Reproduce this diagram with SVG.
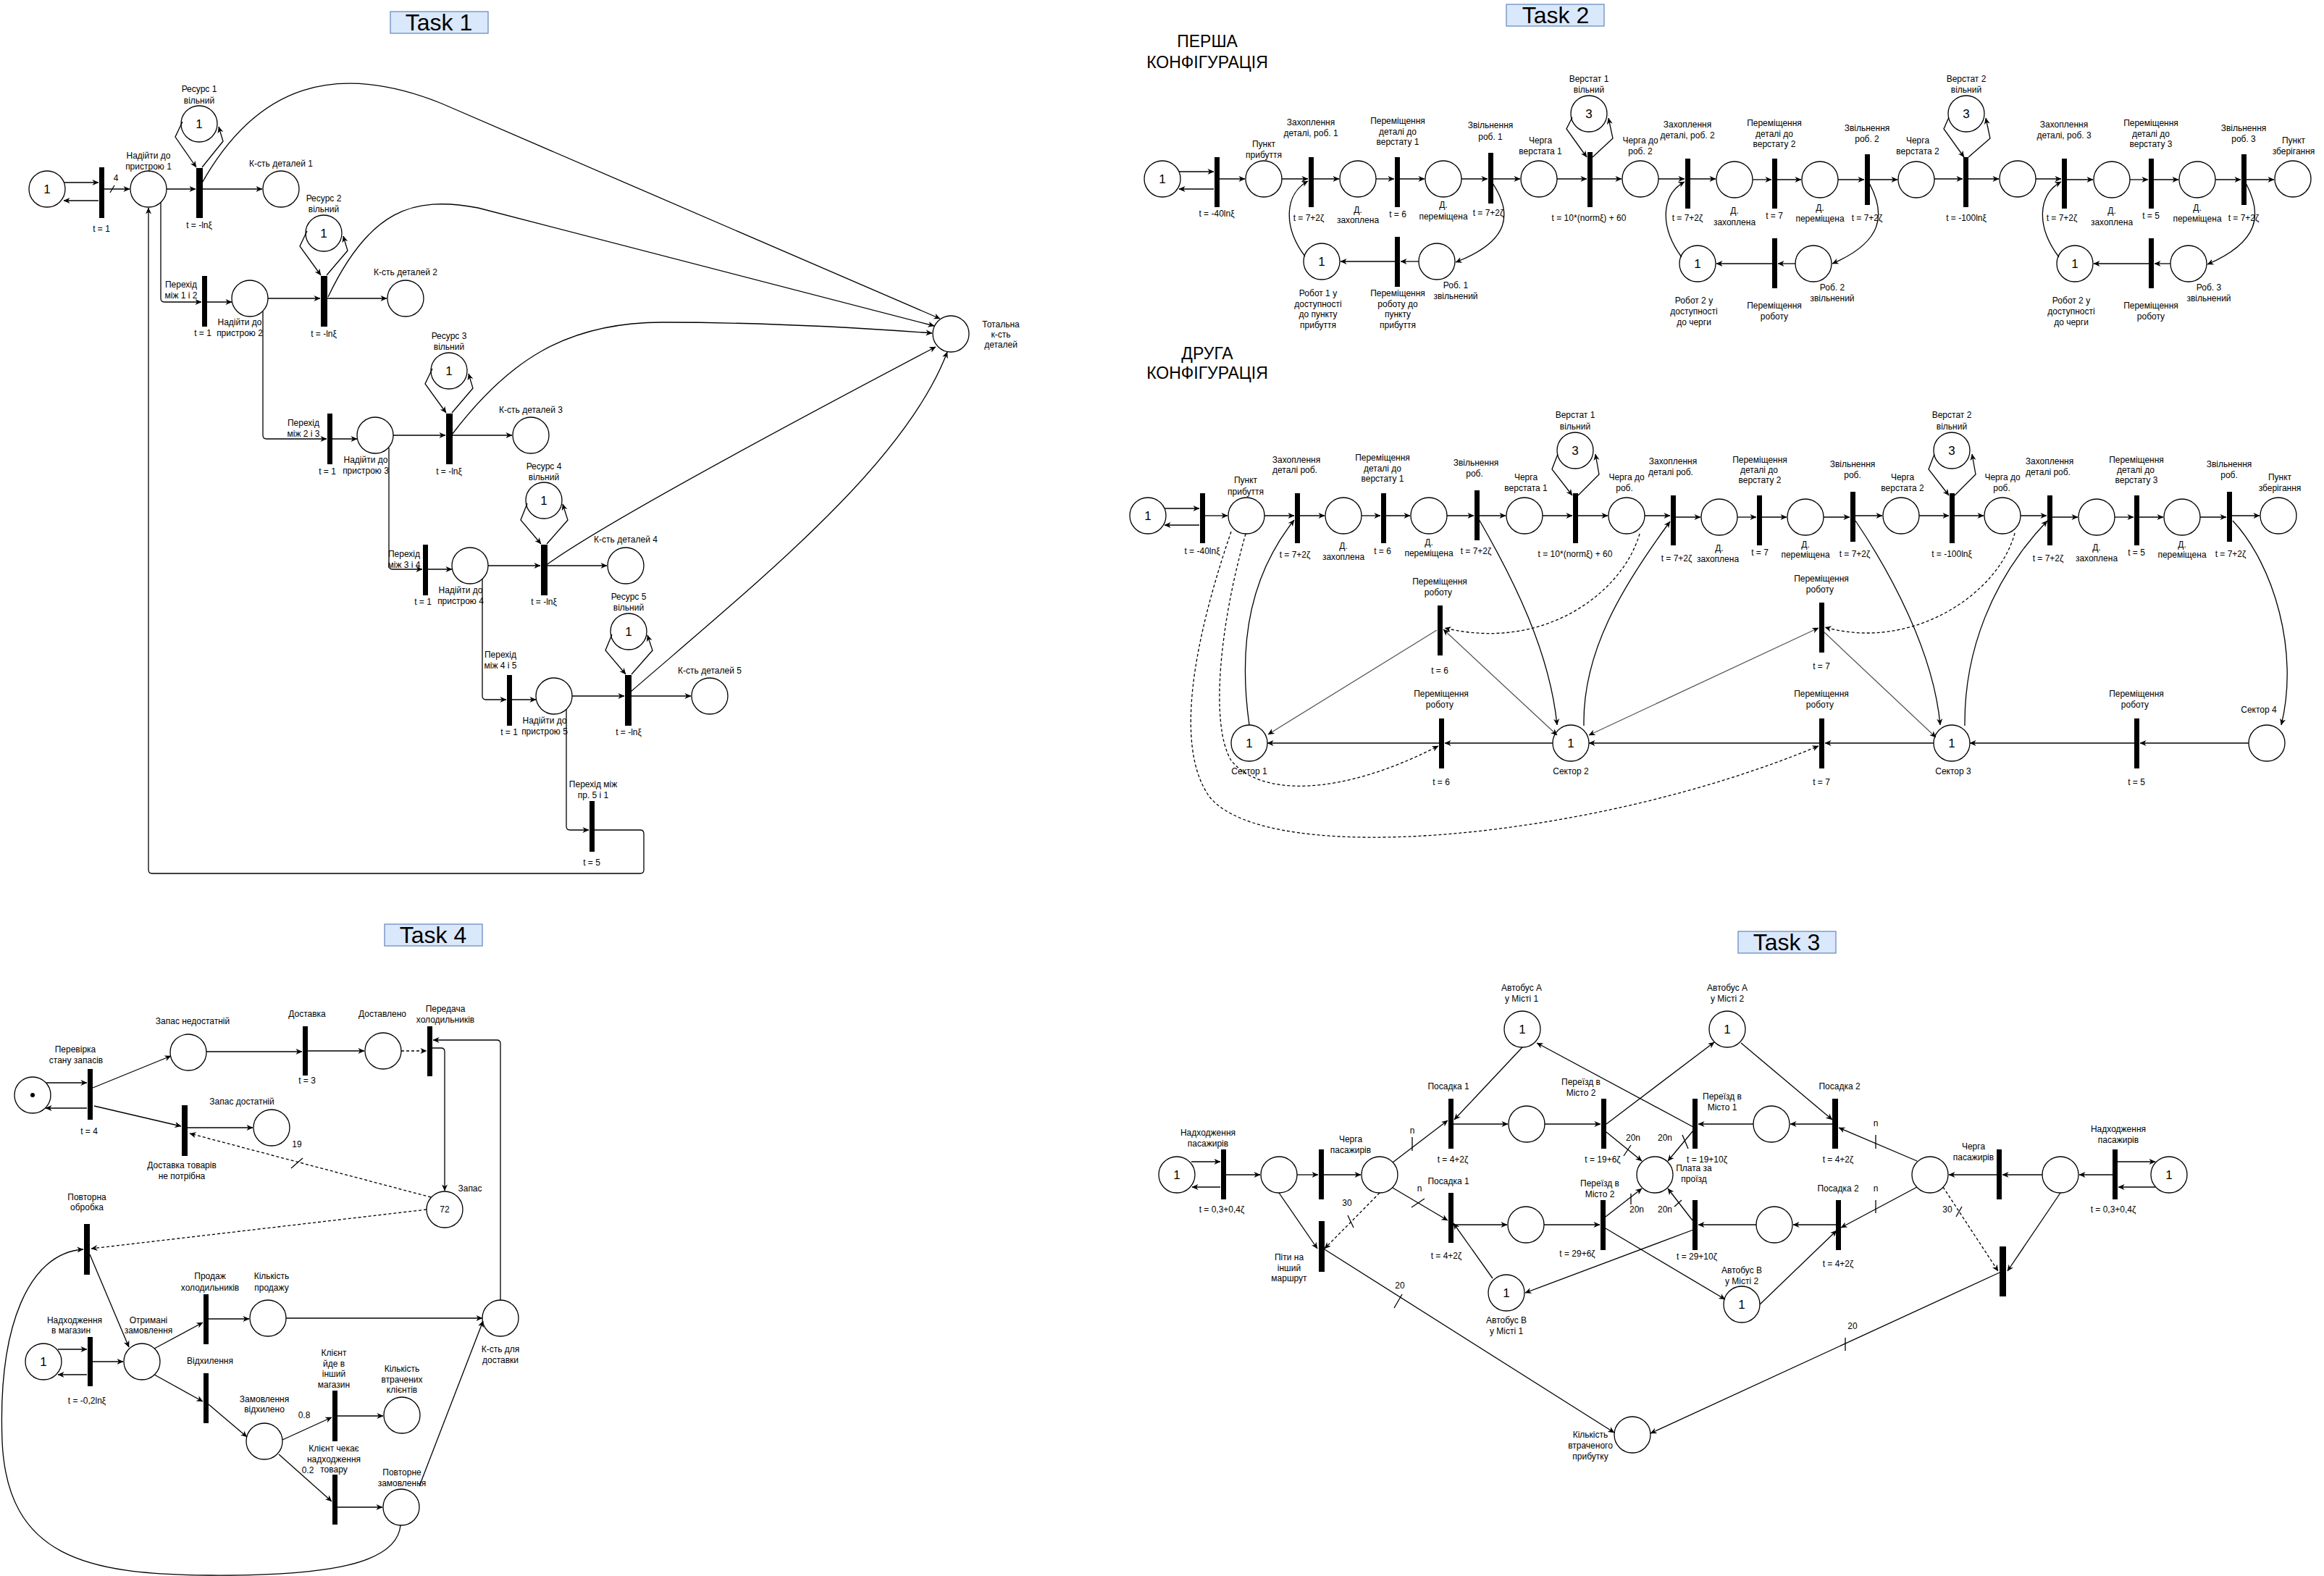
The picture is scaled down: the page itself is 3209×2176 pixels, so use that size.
<svg xmlns="http://www.w3.org/2000/svg" width="3209" height="2176" viewBox="0 0 3209 2176">
<defs>
<marker id="ar" viewBox="0 0 10 10" refX="9.5" refY="5" markerWidth="9" markerHeight="9" markerUnits="userSpaceOnUse" orient="auto-start-reverse"><path d="M0,0.5 L10,5 L0,9.5 L3,5 z" fill="#000"/></marker>
<style>
.p{fill:#fff;stroke:#000;stroke-width:1.3}
.t{fill:#000}
.a{fill:none;stroke:#000;stroke-width:1.3;marker-end:url(#ar)}
.b{marker-start:url(#ar)}
.g{stroke:#555}
.n{fill:none;stroke:#000;stroke-width:1.3}
.d{stroke-dasharray:4 3}
text{font-family:"Liberation Sans",Arial,sans-serif;fill:#000}
.l{font-size:12px;text-anchor:middle;dominant-baseline:central}
.k{font-size:17px;text-anchor:middle;dominant-baseline:central}
.h{font-size:32px;text-anchor:middle;dominant-baseline:central}
.c{font-size:23px;text-anchor:middle;dominant-baseline:central}
.tb{fill:#dae8fc;stroke:#6c8ebf;stroke-width:1.3}
</style>
</defs>
<rect width="3209" height="2176" fill="#fff"/>

<!-- ================= TITLES ================= -->
<g id="title-task1"><rect class="tb" x="539" y="16" width="135" height="30"/><text class="h" x="606" y="31">Task 1</text></g>
<g id="title-task2"><rect class="tb" x="2080" y="6" width="135" height="30"/><text class="h" x="2148" y="21">Task 2</text></g>
<g id="title-task4"><rect class="tb" x="531" y="1276" width="135" height="30"/><text class="h" x="598" y="1291">Task 4</text></g>
<g id="title-task3"><rect class="tb" x="2400" y="1286" width="135" height="30"/><text class="h" x="2467" y="1301">Task 3</text></g>
<g id="title-conf1"><text class="c" x="1667" y="57">ПЕРША</text><text class="c" x="1667" y="86">КОНФІГУРАЦІЯ</text></g>
<g id="title-conf2"><text class="c" x="1667" y="488">ДРУГА</text><text class="c" x="1667" y="515">КОНФІГУРАЦІЯ</text></g>

<!-- ================= TASK 1 NODES ================= -->
<g id="t1-p0"><circle class="p" cx="65" cy="261" r="25"/><text class="k" x="65" y="261">1</text></g>
<g id="t1-t0"><rect class="t" x="137" y="231" width="7" height="70"/><text class="l" x="140" y="316">t = 1</text></g>
<g id="t1-p1"><circle class="p" cx="205" cy="261" r="25"/><text class="l" x="205" y="215">Надійти до<tspan x="205" dy="15">пристрою 1</tspan></text></g>
<g id="t1-t1"><rect class="t" x="271" y="232" width="9" height="69"/><text class="l" x="275" y="311">t = -lnξ</text></g>
<g id="t1-r1"><circle class="p" cx="275" cy="171" r="25"/><text class="k" x="275" y="171">1</text><text class="l" x="275" y="123">Ресурс 1<tspan x="275" dy="16">вільний</tspan></text></g>
<g id="t1-k1"><circle class="p" cx="388" cy="261" r="25"/><text class="l" x="388" y="226">К-сть деталей 1</text></g>
<g id="t1-tot"><circle class="p" cx="1313" cy="461" r="25"/><text class="l" x="1382" y="448">Тотальна<tspan x="1382" dy="14">к-сть</tspan><tspan x="1382" dy="14">деталей</tspan></text></g>
<g id="t1-t2"><rect class="t" x="279" y="381" width="7" height="70"/><text class="l" x="250" y="393">Перехід<tspan x="250" dy="15">між 1 і 2</tspan></text><text class="l" x="280" y="460">t = 1</text></g>
<g id="t1-p2"><circle class="p" cx="345" cy="412" r="25"/><text class="l" x="331" y="445">Надійти до<tspan x="331" dy="15">пристрою 2</tspan></text></g>
<g id="t1-t3"><rect class="t" x="443" y="381" width="9" height="70"/><text class="l" x="447" y="461">t = -lnξ</text></g>
<g id="t1-r2"><circle class="p" cx="447" cy="322" r="25"/><text class="k" x="447" y="322">1</text><text class="l" x="447" y="274">Ресурс 2<tspan x="447" dy="15">вільний</tspan></text></g>
<g id="t1-k2"><circle class="p" cx="560" cy="412" r="25"/><text class="l" x="560" y="376">К-сть деталей 2</text></g>
<g id="t1-t4"><rect class="t" x="452" y="571" width="7" height="70"/><text class="l" x="419" y="584">Перехід<tspan x="419" dy="15">між 2 і 3</tspan></text><text class="l" x="452" y="651">t = 1</text></g>
<g id="t1-p3"><circle class="p" cx="518" cy="601" r="25"/><text class="l" x="505" y="635">Надійти до<tspan x="505" dy="15">пристрою 3</tspan></text></g>
<g id="t1-t5"><rect class="t" x="616" y="571" width="9" height="70"/><text class="l" x="620" y="651">t = -lnξ</text></g>
<g id="t1-r3"><circle class="p" cx="620" cy="512" r="25"/><text class="k" x="620" y="512">1</text><text class="l" x="620" y="464">Ресурс 3<tspan x="620" dy="15">вільний</tspan></text></g>
<g id="t1-k3"><circle class="p" cx="733" cy="601" r="25"/><text class="l" x="733" y="566">К-сть деталей 3</text></g>
<g id="t1-t6"><rect class="t" x="584" y="752" width="7" height="70"/><text class="l" x="558" y="765">Перехід<tspan x="558" dy="15">між 3 і 4</tspan></text><text class="l" x="584" y="831">t = 1</text></g>
<g id="t1-p4"><circle class="p" cx="649" cy="781" r="25"/><text class="l" x="636" y="815">Надійти до<tspan x="636" dy="15">пристрою 4</tspan></text></g>
<g id="t1-t7"><rect class="t" x="747" y="752" width="9" height="70"/><text class="l" x="751" y="831">t = -lnξ</text></g>
<g id="t1-r4"><circle class="p" cx="751" cy="691" r="25"/><text class="k" x="751" y="691">1</text><text class="l" x="751" y="644">Ресурс 4<tspan x="751" dy="15">вільний</tspan></text></g>
<g id="t1-k4"><circle class="p" cx="864" cy="781" r="25"/><text class="l" x="864" y="745">К-сть деталей 4</text></g>
<g id="t1-t8"><rect class="t" x="700" y="932" width="7" height="70"/><text class="l" x="691" y="904">Перехід<tspan x="691" dy="15">між 4 і 5</tspan></text><text class="l" x="703" y="1011">t = 1</text></g>
<g id="t1-p5"><circle class="p" cx="765" cy="961" r="25"/><text class="l" x="752" y="995">Надійти до<tspan x="752" dy="15">пристрою 5</tspan></text></g>
<g id="t1-t9"><rect class="t" x="863" y="932" width="9" height="70"/><text class="l" x="868" y="1011">t = -lnξ</text></g>
<g id="t1-r5"><circle class="p" cx="868" cy="872" r="25"/><text class="k" x="868" y="872">1</text><text class="l" x="868" y="824">Ресурс 5<tspan x="868" dy="15">вільний</tspan></text></g>
<g id="t1-k5"><circle class="p" cx="980" cy="961" r="25"/><text class="l" x="980" y="926">К-сть деталей 5</text></g>
<g id="t1-t10"><rect class="t" x="814" y="1106" width="7" height="70"/><text class="l" x="819" y="1083">Перехід між<tspan x="819" dy="15">пр. 5 і 1</tspan></text><text class="l" x="817" y="1191">t = 5</text></g>

<!-- ================= TASK 2 CONFIG 1 NODES ================= -->
<g id="t2a-src"><circle class="p" cx="1605" cy="247" r="25"/><text class="k" x="1605" y="247">1</text></g>
<g id="t2a-ta"><rect class="t" x="1677" y="217" width="7" height="69"/><text class="l" x="1680" y="295">t = -40lnξ</text></g>
<g id="t2a-pp"><circle class="p" cx="1745" cy="247" r="25"/><text class="l" x="1745" y="199">Пункт<tspan x="1745" dy="14.5">прибуття</tspan></text></g>
<g id="t2a-tb"><rect class="t" x="1807" y="217" width="7" height="69"/><text class="l" x="1810" y="169">Захоплення<tspan x="1810" dy="14.5">деталі, роб. 1</tspan></text><text class="l" x="1807" y="301">t = 7+2ζ</text></g>
<g id="t2a-dz1"><circle class="p" cx="1875" cy="247" r="25"/><text class="l" x="1875" y="290">Д.<tspan x="1875" dy="14">захоплена</tspan></text></g>
<g id="t2a-tc"><rect class="t" x="1926" y="217" width="7" height="69"/><text class="l" x="1930" y="167">Переміщення<tspan x="1930" dy="14.5">деталі до</tspan><tspan x="1930" dy="14.5">верстату 1</tspan></text><text class="l" x="1930" y="296">t = 6</text></g>
<g id="t2a-dp1"><circle class="p" cx="1993" cy="247" r="25"/><text class="l" x="1993" y="283">Д.<tspan x="1993" dy="16">переміщена</tspan></text></g>
<g id="t2a-td"><rect class="t" x="2055" y="211" width="7" height="70"/><text class="l" x="2058" y="173">Звільнення<tspan x="2058" dy="15.5">роб. 1</tspan></text><text class="l" x="2055" y="294">t = 7+2ζ</text></g>
<g id="t2a-q1"><circle class="p" cx="2125" cy="247" r="25"/><text class="l" x="2127" y="194">Черга<tspan x="2127" dy="15">верстата 1</tspan></text></g>
<g id="t2a-te"><rect class="t" x="2192" y="210" width="7" height="76"/><text class="l" x="2194" y="301">t = 10*(normξ) + 60</text></g>
<g id="t2a-v1"><circle class="p" cx="2194" cy="157" r="25"/><text class="k" x="2194" y="157">3</text><text class="l" x="2194" y="109">Верстат 1<tspan x="2194" dy="14.5">вільний</tspan></text></g>
<g id="t2a-qr2"><circle class="p" cx="2265" cy="247" r="25"/><text class="l" x="2265" y="194">Черга до<tspan x="2265" dy="15">роб. 2</tspan></text></g>
<g id="t2a-tf"><rect class="t" x="2327" y="219" width="7" height="69"/><text class="l" x="2330" y="172">Захоплення<tspan x="2330" dy="14.5">деталі, роб. 2</tspan></text><text class="l" x="2330" y="301">t = 7+2ζ</text></g>
<g id="t2a-dz2"><circle class="p" cx="2395" cy="248" r="25"/><text class="l" x="2395" y="291">Д.<tspan x="2395" dy="15.5">захоплена</tspan></text></g>
<g id="t2a-tg"><rect class="t" x="2447" y="219" width="7" height="69"/><text class="l" x="2450" y="170">Переміщення<tspan x="2450" dy="14.5">деталі до</tspan><tspan x="2450" dy="14.5">верстату 2</tspan></text><text class="l" x="2450" y="298">t = 7</text></g>
<g id="t2a-dp2"><circle class="p" cx="2513" cy="248" r="25"/><text class="l" x="2513" y="287">Д.<tspan x="2513" dy="14.5">переміщена</tspan></text></g>
<g id="t2a-th"><rect class="t" x="2575" y="213" width="7" height="70"/><text class="l" x="2578" y="177">Звільнення<tspan x="2578" dy="14.5">роб. 2</tspan></text><text class="l" x="2578" y="301">t = 7+2ζ</text></g>
<g id="t2a-q2"><circle class="p" cx="2646" cy="248" r="25"/><text class="l" x="2648" y="194">Черга<tspan x="2648" dy="15">верстата 2</tspan></text></g>
<g id="t2a-ti"><rect class="t" x="2711" y="217" width="7" height="69"/><text class="l" x="2715" y="301">t = -100lnξ</text></g>
<g id="t2a-v2"><circle class="p" cx="2715" cy="157" r="25"/><text class="k" x="2715" y="157">3</text><text class="l" x="2715" y="109">Верстат 2<tspan x="2715" dy="14.5">вільний</tspan></text></g>
<g id="t2a-qr3"><circle class="p" cx="2786" cy="247" r="25"/></g>
<g id="t2a-tj"><rect class="t" x="2847" y="219" width="7" height="69"/><text class="l" x="2850" y="172">Захоплення<tspan x="2850" dy="14.5">деталі, роб. 3</tspan></text><text class="l" x="2847" y="301">t = 7+2ζ</text></g>
<g id="t2a-dz3"><circle class="p" cx="2916" cy="248" r="25"/><text class="l" x="2916" y="291">Д.<tspan x="2916" dy="15.5">захоплена</tspan></text></g>
<g id="t2a-tk"><rect class="t" x="2967" y="219" width="7" height="69"/><text class="l" x="2970" y="170">Переміщення<tspan x="2970" dy="14.5">деталі до</tspan><tspan x="2970" dy="14.5">верстату 3</tspan></text><text class="l" x="2970" y="298">t = 5</text></g>
<g id="t2a-dp3"><circle class="p" cx="3034" cy="248" r="25"/><text class="l" x="3034" y="287">Д.<tspan x="3034" dy="14.5">переміщена</tspan></text></g>
<g id="t2a-tl"><rect class="t" x="3095" y="213" width="7" height="70"/><text class="l" x="3098" y="177">Звільнення<tspan x="3098" dy="14.5">роб. 3</tspan></text><text class="l" x="3098" y="301">t = 7+2ζ</text></g>
<g id="t2a-store"><circle class="p" cx="3166" cy="247" r="25"/><text class="l" x="3167" y="194">Пункт<tspan x="3167" dy="15">зберігання</tspan></text></g>
<g id="t2a-rob1"><circle class="p" cx="1825" cy="361" r="25"/><text class="k" x="1825" y="361">1</text><text class="l" x="1820" y="405">Робот 1 у<tspan x="1820" dy="14.5">доступності</tspan><tspan x="1820" dy="14.5">до пункту</tspan><tspan x="1820" dy="14.5">прибуття</tspan></text></g>
<g id="t2a-tr1"><rect class="t" x="1926" y="327" width="7" height="69"/><text class="l" x="1930" y="405">Переміщення<tspan x="1930" dy="14.5">роботу до</tspan><tspan x="1930" dy="14.5">пункту</tspan><tspan x="1930" dy="14.5">прибуття</tspan></text></g>
<g id="t2a-rf1"><circle class="p" cx="1984" cy="361" r="25"/><text class="l" x="2010" y="394">Роб. 1<tspan x="2010" dy="14.5">звільнений</tspan></text></g>
<g id="t2a-rob2"><circle class="p" cx="2344" cy="364" r="25"/><text class="k" x="2344" y="364">1</text><text class="l" x="2339" y="415">Робот 2 у<tspan x="2339" dy="15">доступності</tspan><tspan x="2339" dy="15">до черги</tspan></text></g>
<g id="t2a-tr2"><rect class="t" x="2447" y="329" width="7" height="69"/><text class="l" x="2450" y="422">Переміщення<tspan x="2450" dy="14.5">роботу</tspan></text></g>
<g id="t2a-rf2"><circle class="p" cx="2504" cy="364" r="25"/><text class="l" x="2530" y="397">Роб. 2<tspan x="2530" dy="14.5">звільнений</tspan></text></g>
<g id="t2a-rob3"><circle class="p" cx="2865" cy="364" r="25"/><text class="k" x="2865" y="364">1</text><text class="l" x="2860" y="415">Робот 2 у<tspan x="2860" dy="15">доступності</tspan><tspan x="2860" dy="15">до черги</tspan></text></g>
<g id="t2a-tr3"><rect class="t" x="2967" y="329" width="7" height="69"/><text class="l" x="2970" y="422">Переміщення<tspan x="2970" dy="14.5">роботу</tspan></text></g>
<g id="t2a-rf3"><circle class="p" cx="3022" cy="364" r="25"/><text class="l" x="3050" y="397">Роб. 3<tspan x="3050" dy="14.5">звільнений</tspan></text></g>

<!-- ================= TASK 2 CONFIG 2 NODES ================= -->
<g id="t2b-src"><circle class="p" cx="1585" cy="712" r="25"/><text class="k" x="1585" y="712">1</text></g>
<g id="t2b-ta"><rect class="t" x="1657" y="681" width="7" height="69"/><text class="l" x="1660" y="761">t = -40lnξ</text></g>
<g id="t2b-pp"><circle class="p" cx="1721" cy="712" r="25"/><text class="l" x="1720" y="663">Пункт<tspan x="1720" dy="16">прибуття</tspan></text></g>
<g id="t2b-tb"><rect class="t" x="1788" y="681" width="7" height="69"/><text class="l" x="1790" y="635">Захоплення<tspan x="1788" dy="14">деталі роб.</tspan></text><text class="l" x="1788" y="766">t = 7+2ζ</text></g>
<g id="t2b-dz1"><circle class="p" cx="1855" cy="712" r="25"/><text class="l" x="1855" y="754">Д.<tspan x="1855" dy="15">захоплена</tspan></text></g>
<g id="t2b-tc"><rect class="t" x="1907" y="681" width="7" height="69"/><text class="l" x="1909" y="632">Переміщення<tspan x="1909" dy="15">деталі до</tspan><tspan x="1909" dy="14">верстату 1</tspan></text><text class="l" x="1909" y="761">t = 6</text></g>
<g id="t2b-dp1"><circle class="p" cx="1973" cy="712" r="25"/><text class="l" x="1973" y="749">Д.<tspan x="1973" dy="15">переміщена</tspan></text></g>
<g id="t2b-td"><rect class="t" x="2036" y="677" width="7" height="69"/><text class="l" x="2038" y="639">Звільнення<tspan x="2036" dy="15">роб.</tspan></text><text class="l" x="2038" y="761">t = 7+2ζ</text></g>
<g id="t2b-q1"><circle class="p" cx="2105" cy="712" r="25"/><text class="l" x="2107" y="659">Черга<tspan x="2107" dy="15">верстата 1</tspan></text></g>
<g id="t2b-te"><rect class="t" x="2172" y="681" width="7" height="69"/><text class="l" x="2175" y="765">t = 10*(normξ) + 60</text></g>
<g id="t2b-v1"><circle class="p" cx="2175" cy="622" r="25"/><text class="k" x="2175" y="622">3</text><text class="l" x="2175" y="573">Верстат 1<tspan x="2175" dy="16">вільний</tspan></text></g>
<g id="t2b-qr2"><circle class="p" cx="2246" cy="712" r="25"/><text class="l" x="2246" y="659">Черга до<tspan x="2243" dy="15">роб.</tspan></text></g>
<g id="t2b-tf"><rect class="t" x="2307" y="684" width="7" height="69"/><text class="l" x="2310" y="637">Захоплення<tspan x="2307" dy="15">деталі роб.</tspan></text><text class="l" x="2315" y="771">t = 7+2ζ</text></g>
<g id="t2b-dz2"><circle class="p" cx="2374" cy="714" r="25"/><text class="l" x="2374" y="757">Д.<tspan x="2372" dy="15">захоплена</tspan></text></g>
<g id="t2b-tg"><rect class="t" x="2426" y="684" width="7" height="69"/><text class="l" x="2430" y="635">Переміщення<tspan x="2429" dy="14">деталі до</tspan><tspan x="2430" dy="14">верстату 2</tspan></text><text class="l" x="2430" y="763">t = 7</text></g>
<g id="t2b-dp2"><circle class="p" cx="2493" cy="714" r="25"/><text class="l" x="2493" y="752">Д.<tspan x="2493" dy="14">переміщена</tspan></text></g>
<g id="t2b-th"><rect class="t" x="2555" y="679" width="7" height="69"/><text class="l" x="2558" y="641">Звільнення<tspan x="2558" dy="15">роб.</tspan></text><text class="l" x="2561" y="765">t = 7+2ζ</text></g>
<g id="t2b-q2"><circle class="p" cx="2625" cy="712" r="25"/><text class="l" x="2627" y="659">Черга<tspan x="2627" dy="15">верстата 2</tspan></text></g>
<g id="t2b-ti"><rect class="t" x="2692" y="681" width="7" height="69"/><text class="l" x="2695" y="765">t = -100lnξ</text></g>
<g id="t2b-v2"><circle class="p" cx="2695" cy="622" r="25"/><text class="k" x="2695" y="622">3</text><text class="l" x="2695" y="573">Верстат 2<tspan x="2695" dy="16">вільний</tspan></text></g>
<g id="t2b-qr3"><circle class="p" cx="2765" cy="712" r="25"/><text class="l" x="2765" y="659">Черга до<tspan x="2764" dy="15">роб.</tspan></text></g>
<g id="t2b-tj"><rect class="t" x="2827" y="684" width="7" height="69"/><text class="l" x="2830" y="637">Захоплення<tspan x="2828" dy="15">деталі роб.</tspan></text><text class="l" x="2828" y="771">t = 7+2ζ</text></g>
<g id="t2b-dz3"><circle class="p" cx="2895" cy="714" r="25"/><text class="l" x="2895" y="756">Д.<tspan x="2895" dy="15">захоплена</tspan></text></g>
<g id="t2b-tk"><rect class="t" x="2947" y="684" width="7" height="69"/><text class="l" x="2950" y="635">Переміщення<tspan x="2949" dy="14">деталі до</tspan><tspan x="2950" dy="14">верстату 3</tspan></text><text class="l" x="2950" y="763">t = 5</text></g>
<g id="t2b-dp3"><circle class="p" cx="3013" cy="714" r="25"/><text class="l" x="3013" y="752">Д.<tspan x="3013" dy="14">переміщена</tspan></text></g>
<g id="t2b-tl"><rect class="t" x="3075" y="679" width="7" height="69"/><text class="l" x="3078" y="641">Звільнення<tspan x="3078" dy="15">роб.</tspan></text><text class="l" x="3080" y="765">t = 7+2ζ</text></g>
<g id="t2b-store"><circle class="p" cx="3146" cy="712" r="25"/><text class="l" x="3148" y="659">Пункт<tspan x="3148" dy="15">зберігання</tspan></text></g>
<g id="t2b-tm1"><rect class="t" x="1985" y="836" width="7" height="69"/><text class="l" x="1988" y="803">Переміщення<tspan x="1986" dy="15">роботу</tspan></text><text class="l" x="1988" y="926">t = 6</text></g>
<g id="t2b-tm2"><rect class="t" x="1987" y="992" width="7" height="69"/><text class="l" x="1990" y="958">Переміщення<tspan x="1988" dy="15">роботу</tspan></text><text class="l" x="1990" y="1080">t = 6</text></g>
<g id="t2b-s1"><circle class="p" cx="1725" cy="1026" r="25"/><text class="k" x="1725" y="1026">1</text><text class="l" x="1725" y="1065">Сектор 1</text></g>
<g id="t2b-s2"><circle class="p" cx="2169" cy="1026" r="25"/><text class="k" x="2169" y="1026">1</text><text class="l" x="2169" y="1065">Сектор 2</text></g>
<g id="t2b-tm3"><rect class="t" x="2512" y="832" width="7" height="69"/><text class="l" x="2515" y="799">Переміщення<tspan x="2513" dy="15">роботу</tspan></text><text class="l" x="2515" y="920">t = 7</text></g>
<g id="t2b-tm4"><rect class="t" x="2512" y="992" width="7" height="69"/><text class="l" x="2515" y="958">Переміщення<tspan x="2513" dy="15">роботу</tspan></text><text class="l" x="2515" y="1080">t = 7</text></g>
<g id="t2b-s3"><circle class="p" cx="2695" cy="1026" r="25"/><text class="k" x="2695" y="1026">1</text><text class="l" x="2697" y="1065">Сектор 3</text></g>
<g id="t2b-tm5"><rect class="t" x="2947" y="992" width="7" height="69"/><text class="l" x="2950" y="958">Переміщення<tspan x="2948" dy="15">роботу</tspan></text><text class="l" x="2950" y="1080">t = 5</text></g>
<g id="t2b-s4"><circle class="p" cx="3130" cy="1026" r="25"/><text class="l" x="3119" y="980">Сектор 4</text></g>

<!-- ================= TASK 4 NODES ================= -->
<g id="t4-start"><circle class="p" cx="45" cy="1512" r="25"/><circle cx="45" cy="1512" r="3" fill="#000"/></g>
<g id="t4-check"><rect class="t" x="121" y="1476" width="7" height="70"/><text class="l" x="104" y="1449">Перевірка<tspan x="105" dy="15">стану запасів</tspan></text><text class="l" x="123" y="1562">t = 4</text></g>
<g id="t4-low"><circle class="p" cx="260" cy="1453" r="25"/><text class="l" x="266" y="1410">Запас недостатній</text></g>
<g id="t4-deliv"><rect class="t" x="418" y="1417" width="7" height="68"/><text class="l" x="424" y="1400">Доставка</text><text class="l" x="424" y="1492">t = 3</text></g>
<g id="t4-delivered"><circle class="p" cx="529" cy="1451" r="25"/><text class="l" x="528" y="1400">Доставлено</text></g>
<g id="t4-transfer"><rect class="t" x="590" y="1417" width="7" height="69"/><text class="l" x="615" y="1393">Передача<tspan x="615" dy="15">холодильників</tspan></text></g>
<g id="t4-stock"><circle class="p" cx="614" cy="1670" r="25"/><text class="l" x="614" y="1670">72</text><text class="l" x="649" y="1641">Запас</text></g>
<g id="t4-nodeliv"><rect class="t" x="251" y="1526" width="8" height="70"/><text class="l" x="251" y="1609">Доставка товарів<tspan x="251" dy="15">не потрібна</tspan></text></g>
<g id="t4-enough"><circle class="p" cx="375" cy="1557" r="25"/><text class="l" x="334" y="1521">Запас достатній</text></g>
<g id="t4-reproc"><rect class="t" x="116" y="1690" width="8" height="70"/><text class="l" x="120" y="1653">Повторна<tspan x="120" dy="14">обробка</tspan></text></g>
<g id="t4-in"><circle class="p" cx="60" cy="1880" r="25"/><text class="k" x="60" y="1880">1</text></g>
<g id="t4-arr"><rect class="t" x="121" y="1846" width="7" height="68"/><text class="l" x="103" y="1823">Надходження<tspan x="98" dy="14">в магазин</tspan></text><text class="l" x="120" y="1934">t = -0,2lnξ</text></g>
<g id="t4-orders"><circle class="p" cx="196" cy="1880" r="25"/><text class="l" x="205" y="1823">Отримані<tspan x="205" dy="14">замовлення</tspan></text></g>
<g id="t4-sale"><rect class="t" x="281" y="1787" width="7" height="69"/><text class="l" x="290" y="1762">Продаж<tspan x="290" dy="16">холодильників</tspan></text></g>
<g id="t4-sold"><circle class="p" cx="370" cy="1820" r="25"/><text class="l" x="375" y="1762">Кількість<tspan x="375" dy="16">продажу</tspan></text></g>
<g id="t4-todeliv"><circle class="p" cx="691" cy="1820" r="25"/><text class="l" x="691" y="1863">К-сть для<tspan x="691" dy="15">доставки</tspan></text></g>
<g id="t4-reject"><rect class="t" x="281" y="1896" width="7" height="69"/><text class="l" x="290" y="1879">Відхилення</text></g>
<g id="t4-rejected"><circle class="p" cx="365" cy="1990" r="25"/><text class="l" x="365" y="1932">Замовлення<tspan x="365" dy="14">відхилено</tspan></text></g>
<g id="t4-leave"><rect class="t" x="459" y="1920" width="7" height="70"/><text class="l" x="461" y="1868">Клієнт<tspan x="461" dy="14.5">йде в</tspan><tspan x="461" dy="14.5">інший</tspan><tspan x="461" dy="14.5">магазин</tspan></text></g>
<g id="t4-lost"><circle class="p" cx="555" cy="1954" r="25"/><text class="l" x="555" y="1890">Кількість<tspan x="555" dy="14.5">втрачених</tspan><tspan x="555" dy="14.5">клієнтів</tspan></text></g>
<g id="t4-wait"><rect class="t" x="459" y="2036" width="7" height="69"/><text class="l" x="461" y="2000">Клієнт чекає<tspan x="461" dy="14.5">надходження</tspan><tspan x="461" dy="14.5">товару</tspan></text></g>
<g id="t4-reorder"><circle class="p" cx="554" cy="2081" r="25"/><text class="l" x="555" y="2033">Повторне<tspan x="555" dy="15">замовлення</tspan></text></g>

<!-- ================= TASK 3 NODES ================= -->
<g id="t3-inL"><circle class="p" cx="1625" cy="1622" r="25"/><text class="k" x="1625" y="1622">1</text></g>
<g id="t3-arrL"><rect class="t" x="1686" y="1587" width="7" height="69"/><text class="l" x="1668" y="1564">Надходження<tspan x="1668" dy="15">пасажирів</tspan></text><text class="l" x="1687" y="1670">t = 0,3+0,4ζ</text></g>
<g id="t3-p2L"><circle class="p" cx="1766" cy="1622" r="25"/></g>
<g id="t3-tqL"><rect class="t" x="1821" y="1587" width="7" height="69"/></g>
<g id="t3-queueL"><circle class="p" cx="1905" cy="1622" r="25"/><text class="l" x="1865" y="1573">Черга<tspan x="1865" dy="15">пасажирів</tspan></text></g>
<g id="t3-goL"><rect class="t" x="1821" y="1686" width="8" height="70"/><text class="l" x="1780" y="1736">Піти на<tspan x="1780" dy="14.5">інший</tspan><tspan x="1780" dy="14.5">маршрут</tspan></text></g>
<g id="t3-lost"><circle class="p" cx="2254" cy="1981" r="25"/><text class="l" x="2196" y="1981">Кількість<tspan x="2196" dy="15">втраченого</tspan><tspan x="2196" dy="15">прибутку</tspan></text></g>
<g id="t3-board1a"><rect class="t" x="2000" y="1517" width="7" height="69"/><text class="l" x="2000" y="1500">Посадка 1</text><text class="l" x="2006" y="1601">t = 4+2ζ</text></g>
<g id="t3-board1b"><rect class="t" x="2000" y="1647" width="7" height="69"/><text class="l" x="2000" y="1631">Посадка 1</text><text class="l" x="1997" y="1734">t = 4+2ζ</text></g>
<g id="t3-busA1"><circle class="p" cx="2102" cy="1421" r="25"/><text class="k" x="2102" y="1421">1</text><text class="l" x="2101" y="1364">Автобус А<tspan x="2101" dy="15">у Місті 1</tspan></text></g>
<g id="t3-busB1"><circle class="p" cx="2080" cy="1785" r="25"/><text class="k" x="2080" y="1785">1</text><text class="l" x="2080" y="1823">Автобус В<tspan x="2080" dy="15">у Місті 1</tspan></text></g>
<g id="t3-midA"><circle class="p" cx="2108" cy="1552" r="25"/></g>
<g id="t3-midB"><circle class="p" cx="2107" cy="1691" r="25"/></g>
<g id="t3-move2a"><rect class="t" x="2211" y="1517" width="7" height="69"/><text class="l" x="2183" y="1494">Переїзд в<tspan x="2183" dy="15">Місто 2</tspan></text><text class="l" x="2213" y="1601">t = 19+6ζ</text></g>
<g id="t3-move2b"><rect class="t" x="2210" y="1657" width="7" height="69"/><text class="l" x="2209" y="1634">Переїзд в<tspan x="2209" dy="15">Місто 2</tspan></text><text class="l" x="2178" y="1731">t = 29+6ζ</text></g>
<g id="t3-fare"><circle class="p" cx="2285" cy="1622" r="25"/><text class="l" x="2339" y="1613">Плата за<tspan x="2339" dy="15">проїзд</tspan></text></g>
<g id="t3-move1a"><rect class="t" x="2337" y="1517" width="7" height="69"/><text class="l" x="2378" y="1514">Переїзд в<tspan x="2378" dy="15">Місто 1</tspan></text><text class="l" x="2357" y="1601">t = 19+10ζ</text></g>
<g id="t3-move1b"><rect class="t" x="2337" y="1657" width="7" height="69"/><text class="l" x="2343" y="1735">t = 29+10ζ</text></g>
<g id="t3-busA2"><circle class="p" cx="2385" cy="1421" r="25"/><text class="k" x="2385" y="1421">1</text><text class="l" x="2385" y="1364">Автобус А<tspan x="2385" dy="15">у Місті 2</tspan></text></g>
<g id="t3-busB2"><circle class="p" cx="2405" cy="1801" r="25"/><text class="k" x="2405" y="1801">1</text><text class="l" x="2405" y="1754">Автобус В<tspan x="2405" dy="15">у Місті 2</tspan></text></g>
<g id="t3-midA2"><circle class="p" cx="2446" cy="1552" r="25"/></g>
<g id="t3-midB2"><circle class="p" cx="2450" cy="1691" r="25"/></g>
<g id="t3-board2a"><rect class="t" x="2530" y="1517" width="8" height="69"/><text class="l" x="2540" y="1500">Посадка 2</text><text class="l" x="2538" y="1601">t = 4+2ζ</text></g>
<g id="t3-board2b"><rect class="t" x="2535" y="1657" width="7" height="69"/><text class="l" x="2538" y="1641">Посадка 2</text><text class="l" x="2538" y="1745">t = 4+2ζ</text></g>
<g id="t3-queueR"><circle class="p" cx="2665" cy="1622" r="25"/><text class="l" x="2725" y="1583">Черга<tspan x="2725" dy="15">пасажирів</tspan></text></g>
<g id="t3-tqR"><rect class="t" x="2757" y="1587" width="7" height="69"/></g>
<g id="t3-p2R"><circle class="p" cx="2845" cy="1622" r="25"/></g>
<g id="t3-arrR"><rect class="t" x="2917" y="1587" width="7" height="69"/><text class="l" x="2925" y="1559">Надходження<tspan x="2925" dy="15">пасажирів</tspan></text><text class="l" x="2918" y="1670">t = 0,3+0,4ζ</text></g>
<g id="t3-inR"><circle class="p" cx="2995" cy="1622" r="25"/><text class="k" x="2995" y="1622">1</text></g>
<g id="t3-goR"><rect class="t" x="2761" y="1721" width="9" height="69"/></g>

<!-- ================= CONNECTORS ================= -->
<g id="connectors">
<!-- Task 1 -->
<path class="a" d="M89,252 L136,252"/>
<path class="a" d="M136,277 L88,277"/>
<path class="a" d="M144,261 L179,261"/>
<text class="l" x="160" y="246">4</text><path class="n" d="M152,266 L158,256"/>
<path class="a" d="M230,261 L270,261"/>
<path class="a" d="M280,261 L362,261"/>
<path class="a" d="M252,168 L242,189 L271,231"/>
<path class="a" d="M279,231 L308,195 L302,175"/>
<path class="a" d="M424,319 L414,340 L443,380"/>
<path class="a" d="M451,380 L480,346 L474,326"/>
<path class="a" d="M597,509 L587,530 L616,570"/>
<path class="a" d="M624,570 L653,536 L647,516"/>
<path class="a" d="M728,695 L719,718 L747,751"/>
<path class="a" d="M755,751 L784,718 L777,696"/>
<path class="a" d="M845,876 L836,898 L864,931"/>
<path class="a" d="M872,931 L901,898 L894,877"/>
<path class="a" d="M277,256 C355,115 465,85 610,143 L1298,440"/>
<path class="a" d="M453,410 C510,290 570,270 660,287 L1290,450"/>
<path class="a" d="M624,600 C700,500 780,445 915,445 C1050,445 1180,452 1287,460"/>
<path class="a" d="M756,779 C830,725 1100,580 1292,479"/>
<path class="a" d="M871,955 C1050,800 1250,640 1308,486"/>
<path class="a" d="M222,279 L222,412 Q222,417 227,417 L278,417"/>
<path class="a" d="M286,417 L320,417"/>
<path class="a" d="M370,412 L442,412"/>
<path class="a" d="M452,412 L534,412"/>
<path class="a" d="M363,430 L363,601 Q363,606 368,606 L451,606"/>
<path class="a" d="M459,606 L493,606"/>
<path class="a" d="M543,601 L615,601"/>
<path class="a" d="M625,601 L707,601"/>
<path class="a" d="M537,618 L537,781 Q537,786 542,786 L583,786"/>
<path class="a" d="M591,786 L624,786"/>
<path class="a" d="M674,781 L746,781"/>
<path class="a" d="M756,781 L838,781"/>
<path class="a" d="M666,799 L666,961 Q666,966 671,966 L699,966"/>
<path class="a" d="M707,966 L740,966"/>
<path class="a" d="M790,961 L862,961"/>
<path class="a" d="M872,961 L954,961"/>
<path class="a" d="M782,979 L782,1141 Q782,1146 787,1146 L813,1146"/>
<path class="a" d="M821,1146 L884,1146 Q889,1146 889,1151 L889,1201 Q889,1206 884,1206 L210,1206 Q205,1206 205,1201 L205,287"/>

<!-- Task 2 config 1 -->
<path class="a" d="M1628,237 L1676,237"/>
<path class="a" d="M1676,261 L1628,261"/>
<path class="a" d="M1684,247 L1719,247"/>
<path class="a" d="M1770,247 L1806,247"/>
<path class="a" d="M1814,247 L1849,247"/>
<path class="a" d="M1900,247 L1925,247"/>
<path class="a" d="M1933,247 L1967,247"/>
<path class="a" d="M2018,247 L2054,247"/>
<path class="a" d="M2062,247 L2099,247"/>
<path class="a" d="M2150,247 L2191,247"/>
<path class="a" d="M2199,247 L2239,247"/>
<path class="a" d="M2290,247 L2326,247"/>
<path class="a" d="M2334,247 L2369,247"/>
<path class="a" d="M2420,248 L2446,248"/>
<path class="a" d="M2454,248 L2487,248"/>
<path class="a" d="M2538,248 L2574,248"/>
<path class="a" d="M2582,248 L2620,248"/>
<path class="a" d="M2671,247 L2710,247"/>
<path class="a" d="M2718,247 L2760,247"/>
<path class="a" d="M2811,247 L2846,247"/>
<path class="a" d="M2854,248 L2890,248"/>
<path class="a" d="M2941,248 L2966,248"/>
<path class="a" d="M2974,248 L3008,248"/>
<path class="a" d="M3059,248 L3094,248"/>
<path class="a" d="M3102,248 L3140,248"/>
<path class="a" d="M2171,162 L2163,178 L2191,217"/>
<path class="a" d="M2199,217 L2227,191 L2221,163"/>
<path class="a" d="M2691,162 L2684,178 L2712,217"/>
<path class="a" d="M2718,217 L2748,191 L2742,163"/>
<path class="a" d="M2059,250 C2090,295 2085,333 2010,362"/>
<path class="a" d="M1959,361 L1934,361"/>
<path class="a" d="M1926,361 L1851,361"/>
<path class="a" d="M1802,354 C1770,311 1775,267 1806,250"/>
<path class="a" d="M2580,251 C2605,296 2600,334 2530,364"/>
<path class="a" d="M2479,364 L2455,364"/>
<path class="a" d="M2447,364 L2370,364"/>
<path class="a" d="M2322,355 C2290,311 2295,268 2326,251"/>
<path class="a" d="M3100,251 C3125,296 3120,334 3048,365"/>
<path class="a" d="M2997,364 L2975,364"/>
<path class="a" d="M2967,364 L2891,364"/>
<path class="a" d="M2843,355 C2810,311 2815,268 2846,251"/>

<!-- Task 2 config 2 -->
<path class="a" d="M1608,702 L1656,702"/>
<path class="a" d="M1656,725 L1608,725"/>
<path class="a" d="M1664,712 L1695,712"/>
<path class="a" d="M1746,712 L1787,712"/>
<path class="a" d="M1795,712 L1829,712"/>
<path class="a" d="M1880,712 L1906,712"/>
<path class="a" d="M1914,712 L1947,712"/>
<path class="a" d="M1998,712 L2035,712"/>
<path class="a" d="M2043,712 L2079,712"/>
<path class="a" d="M2130,712 L2171,712"/>
<path class="a" d="M2179,712 L2220,712"/>
<path class="a" d="M2271,712 L2306,712"/>
<path class="a" d="M2314,714 L2348,714"/>
<path class="a" d="M2399,714 L2425,714"/>
<path class="a" d="M2433,714 L2467,714"/>
<path class="a" d="M2518,714 L2554,714"/>
<path class="a" d="M2562,712 L2599,712"/>
<path class="a" d="M2650,712 L2691,712"/>
<path class="a" d="M2699,712 L2739,712"/>
<path class="a" d="M2790,712 L2826,712"/>
<path class="a" d="M2834,714 L2869,714"/>
<path class="a" d="M2920,714 L2946,714"/>
<path class="a" d="M2954,714 L2987,714"/>
<path class="a" d="M3038,714 L3074,714"/>
<path class="a" d="M3082,712 L3120,712"/>
<path class="a" d="M2151,627 L2143,648 L2171,684"/>
<path class="a" d="M2179,684 L2208,655 L2203,627"/>
<path class="a" d="M2671,627 L2663,648 L2691,684"/>
<path class="a" d="M2699,684 L2728,655 L2723,627"/>
<path class="a" d="M1725,1001 C1708,880 1730,790 1787,718"/>
<path class="a" d="M2042,717 C2090,800 2140,900 2150,1001"/>
<path class="a" d="M2187,1002 C2185,900 2240,810 2306,720"/>
<path class="a g" d="M1984,870 L1751,1014"/>
<path class="a b g" d="M1993,869 L2150,1015"/>
<path class="a d" d="M2264,737 C2240,820 2130,900 1995,867"/>
<path class="a b g" d="M2194,1015 L2511,867"/>
<path class="a g" d="M2519,873 L2673,1018"/>
<path class="a d" d="M2782,736 C2760,820 2640,900 2520,866"/>
<path class="a" d="M2144,1026 L1995,1026"/>
<path class="a" d="M1987,1026 L1750,1026"/>
<path class="a" d="M2670,1026 L2520,1026"/>
<path class="a" d="M2512,1026 L2194,1026"/>
<path class="a" d="M3105,1026 L2955,1026"/>
<path class="a" d="M2947,1026 L2720,1026"/>
<path class="a" d="M2562,719 C2610,790 2670,900 2679,1001"/>
<path class="a" d="M2713,1002 C2712,900 2750,800 2827,719"/>
<path class="a" d="M3083,719 C3140,780 3175,900 3150,1001"/>
<path class="a d" d="M1720,737 C1685,860 1670,1000 1700,1050 C1740,1100 1850,1100 1986,1030"/>
<path class="a d" d="M1700,734 C1650,880 1620,1030 1670,1100 C1750,1200 2200,1160 2511,1030"/>

<!-- Task 4 -->
<path class="a" d="M64,1495 L120,1495"/>
<path class="a" d="M120,1530 L63,1530"/>
<path class="a" d="M128,1502 L236,1458"/>
<path class="a" d="M285,1452 L417,1452"/>
<path class="a" d="M425,1451 L503,1451"/>
<path class="a d" d="M554,1451 L589,1451"/>
<path class="a" d="M597,1447 L609,1447 Q614,1447 614,1452 L614,1644"/>
<path class="a" d="M691,1795 L691,1441 Q691,1436 686,1436 L598,1436"/>
<path class="a" d="M130,1527 L250,1555"/>
<path class="a" d="M259,1557 L349,1557"/>
<path class="a d" d="M595,1653 L262,1565"/>
<text class="l" x="410" y="1580">19</text><path class="n" d="M402,1613 L418,1599"/>
<path class="a d" d="M589,1670 L126,1724"/>
<path class="a" d="M124,1732 L178,1860"/>
<path class="a" d="M553,2106 C548,2160 450,2176 290,2175 C120,2174 10,2150 3,1990 C-3,1830 40,1730 115,1725"/>
<path class="a" d="M80,1863 L120,1863"/>
<path class="a" d="M120,1898 L80,1898"/>
<path class="a" d="M128,1880 L170,1880"/>
<path class="a" d="M213,1862 L280,1826"/>
<path class="a" d="M288,1821 L344,1821"/>
<path class="a" d="M395,1820 L666,1820"/>
<path class="a" d="M213,1898 L280,1935"/>
<path class="a" d="M288,1939 L341,1984"/>
<path class="a" d="M390,1988 L458,1957"/>
<text class="l" x="420" y="1954">0.8</text>
<path class="a" d="M466,1955 L529,1955"/>
<path class="a" d="M385,2008 L458,2073"/>
<text class="l" x="425" y="2030">0.2</text>
<path class="a" d="M466,2081 L528,2081"/>
<path class="a" d="M579,2052 L667,1824"/>

<!-- Task 3 -->
<path class="a" d="M1645,1604 L1685,1604"/>
<path class="a" d="M1685,1639 L1646,1639"/>
<path class="a" d="M1693,1622 L1740,1622"/>
<path class="a" d="M1791,1622 L1820,1622"/>
<path class="a" d="M1828,1622 L1879,1622"/>
<path class="a" d="M1766,1647 L1819,1724"/>
<path class="a d" d="M1905,1647 L1829,1724"/>
<text class="l" x="1860" y="1661">30</text><path class="n" d="M1861,1678 L1869,1695"/>
<path class="a" d="M1829,1725 L2229,1978"/>
<text class="l" x="1933" y="1775">20</text><path class="n" d="M1925,1806 L1936,1787"/>
<path class="a" d="M1923,1605 L1999,1547"/>
<text class="l" x="1950" y="1561">n</text><path class="n" d="M1950,1570 L1950,1589"/>
<path class="a" d="M2102,1446 L2008,1546"/>
<path class="a" d="M2007,1552 L2082,1552"/>
<path class="a" d="M2133,1552 L2210,1552"/>
<path class="a" d="M2218,1552 L2367,1439"/>
<path class="a" d="M2218,1563 L2267,1603"/>
<text class="l" x="2255" y="1571">20n</text><path class="n" d="M2252,1581 L2242,1596"/>
<path class="a" d="M1923,1640 L1999,1685"/>
<text class="l" x="1960" y="1641">n</text><path class="n" d="M1949,1667 L1967,1655"/>
<path class="a" d="M2061,1765 L2007,1689"/>
<path class="a" d="M2007,1691 L2081,1691"/>
<path class="a" d="M2132,1691 L2209,1691"/>
<path class="a" d="M2217,1680 L2267,1641"/>
<text class="l" x="2260" y="1670">20n</text><path class="n" d="M2252,1648 L2252,1663"/>
<path class="a" d="M2217,1696 L2382,1794"/>
<path class="a" d="M2421,1552 L2345,1552"/>
<path class="a" d="M2338,1556 L2122,1440"/>
<path class="a" d="M2338,1561 L2303,1603"/>
<text class="l" x="2299" y="1571">20n</text><path class="n" d="M2323,1567 L2331,1586"/>
<path class="a" d="M2425,1691 L2345,1691"/>
<path class="a" d="M2337,1685 L2303,1641"/>
<text class="l" x="2299" y="1670">20n</text><path class="n" d="M2312,1666 L2322,1657"/>
<path class="a" d="M2338,1698 L2106,1785"/>
<path class="a" d="M2530,1552 L2472,1552"/>
<path class="a" d="M2404,1440 L2530,1546"/>
<path class="a" d="M2647,1603 L2539,1557"/>
<text class="l" x="2590" y="1551">n</text><path class="n" d="M2590,1567 L2590,1586"/>
<path class="a" d="M2535,1691 L2476,1691"/>
<path class="a" d="M2647,1639 L2542,1695"/>
<text class="l" x="2590" y="1641">n</text><path class="n" d="M2590,1657 L2590,1675"/>
<path class="a" d="M2430,1801 L2536,1699"/>
<path class="a" d="M2820,1622 L2765,1622"/>
<path class="a" d="M2757,1622 L2691,1622"/>
<path class="a" d="M2917,1622 L2871,1622"/>
<path class="a" d="M2924,1604 L2976,1604"/>
<path class="a" d="M2976,1639 L2925,1639"/>
<path class="a" d="M2845,1647 L2772,1755"/>
<path class="a d" d="M2683,1639 L2759,1755"/>
<text class="l" x="2689" y="1670">30</text><path class="n" d="M2701,1680 L2709,1666"/>
<path class="a" d="M2761,1757 L2279,1979"/>
<text class="l" x="2558" y="1831">20</text><path class="n" d="M2548,1847 L2548,1865"/>
</g>
</svg>
